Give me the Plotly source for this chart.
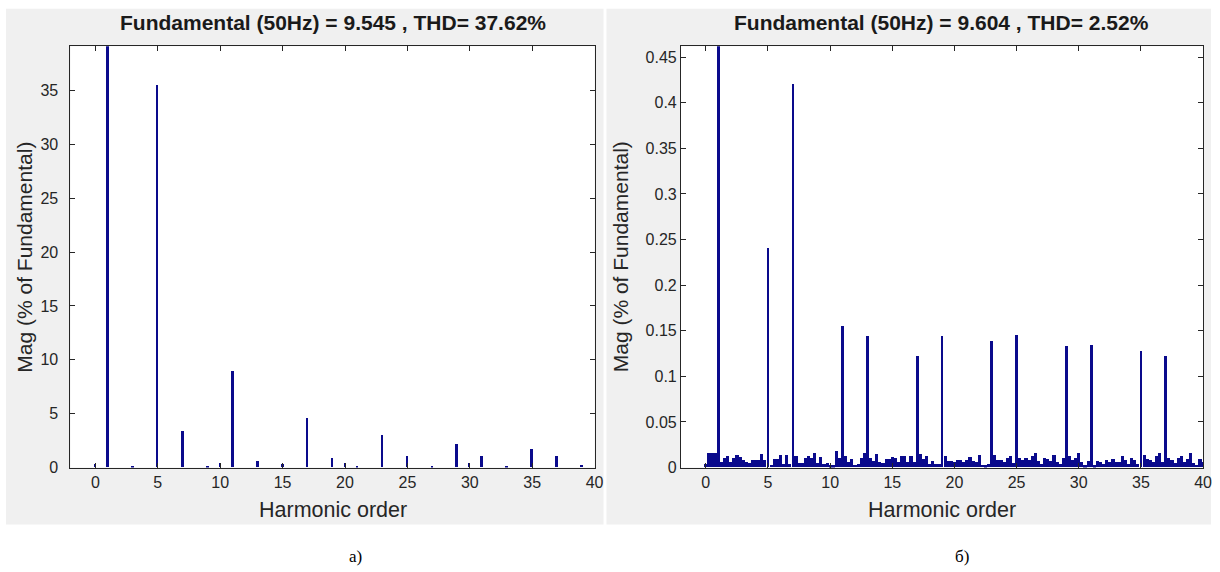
import plotly.graph_objects as go

W, H = 1220, 572

# ---------------- data ----------------
# Panel a) : harmonic spectrum, THD = 37.62 %
harm_a = [0, 1, 3, 5, 7, 9, 10, 11, 13, 15, 17, 19, 20, 21, 23, 25, 27, 29, 30, 31, 33, 35, 37, 39]
mag_a = [0.3, 100, 0.15, 35.5, 3.4, 0.15, 0.4, 8.9, 0.6, 0.3, 4.6, 0.9, 0.4, 0.15, 3.0, 1.0, 0.15, 2.2, 0.4, 1.0, 0.15, 1.7, 1.0, 0.2]
thin_a = [0, 5, 10, 19, 20, 30]          # bars drawn as hairlines in the reference

# Panel б) : harmonic spectrum, THD = 2.52 %
harm_b = [1, 5, 7, 11, 13, 17, 19, 23, 25, 29, 31, 35, 37]
mag_b = [100, 0.241, 0.42, 0.155, 0.144, 0.122, 0.144, 0.139, 0.145, 0.133, 0.134, 0.127, 0.122]
thin_b = [5, 19]

# inter-harmonic content of panel б), one value per 0.25 harmonic bin (0 .. 40)
noise_step = 0.25
noise_b = [
    0.004, 0.016, 0.016, 0.016, 0.0, 0.006, 0.010, 0.012,   # 0 - 1.75
    0.006, 0.010, 0.014, 0.011, 0.008, 0.006, 0.005, 0.008,  # 2 - 3.75
    0.008, 0.008, 0.015, 0.008, 0.0, 0.003, 0.009, 0.009,    # 4 - 5.75
    0.013, 0.004, 0.013, 0.004, 0.0, 0.012, 0.005, 0.005,    # 6 - 7.75
    0.010, 0.012, 0.010, 0.016, 0.005, 0.011, 0.004, 0.005,  # 8 - 9.75
    0.002, 0.002, 0.018, 0.010, 0.0, 0.012, 0.006, 0.009,    # 10 - 11.75
    0.003, 0.004, 0.010, 0.016, 0.0, 0.010, 0.007, 0.015,    # 12 - 13.75
    0.006, 0.005, 0.009, 0.009, 0.011, 0.010, 0.006, 0.012,  # 14 - 15.75
    0.012, 0.006, 0.012, 0.006, 0.0, 0.015, 0.009, 0.012,    # 16 - 17.75
    0.004, 0.007, 0.004, 0.004, 0.0, 0.012, 0.007, 0.007,    # 18 - 19.75
    0.006, 0.008, 0.008, 0.006, 0.008, 0.011, 0.007, 0.006,  # 20 - 21.75
    0.013, 0.003, 0.002, 0.004, 0.0, 0.014, 0.008, 0.008,    # 22 - 23.75
    0.006, 0.010, 0.012, 0.005, 0.0, 0.010, 0.008, 0.010,    # 24 - 25.75
    0.008, 0.012, 0.016, 0.007, 0.004, 0.010, 0.009, 0.007,  # 26 - 27.75
    0.013, 0.006, 0.004, 0.010, 0.0, 0.012, 0.008, 0.010,    # 28 - 29.75
    0.016, 0.006, 0.002, 0.007, 0.0, 0.002, 0.007, 0.006,    # 30 - 31.75
    0.004, 0.008, 0.006, 0.009, 0.006, 0.006, 0.012, 0.008,  # 32 - 33.75
    0.004, 0.010, 0.008, 0.004, 0.0, 0.014, 0.009, 0.008,    # 34 - 35.75
    0.006, 0.012, 0.016, 0.006, 0.0, 0.010, 0.008, 0.005,    # 36 - 37.75
    0.010, 0.012, 0.006, 0.009, 0.016, 0.005, 0.003, 0.009,  # 38 - 39.75
    0.006,                                                   # 40
]
noise_x = [i * noise_step for i in range(len(noise_b))]

xticks = [0, 5, 10, 15, 20, 25, 30, 35, 40]
yticks_a = [0, 5, 10, 15, 20, 25, 30, 35]
yticks_b = [0, 0.05, 0.1, 0.15, 0.2, 0.25, 0.3, 0.35, 0.4, 0.45]
yticklabels_b = ["0", "0.05", "0.1", "0.15", "0.2", "0.25", "0.3", "0.35", "0.4", "0.45"]

title_a = "Fundamental (50Hz) = 9.545 , THD= 37.62%"
title_b = "Fundamental (50Hz) = 9.604 , THD= 2.52%"
xlabel = "Harmonic order"
ylabel = "Mag (% of Fundamental)"
caption_a = "а)"
caption_b = "б)"

# ---------------- style ----------------
BAR = "#0a0a8c"
AX = "#262626"
GRAY = "#f0f0f0"
FONT = "Liberation Sans, Arial, Helvetica, sans-serif"

def px(x):
    return x / W

def py(y):
    return 1 - y / H

# plot areas (pixels)
A_L, A_R, TOP, BOT = 71, 599, 47, 475
B_L, B_R = 686, 1212

fig = go.Figure()

# panel a
wa = [0.08 if h in thin_a else 0.22 for h in harm_a]
fig.add_trace(go.Bar(x=harm_a, y=mag_a, width=wa, marker=dict(color=BAR, line=dict(width=0)),
                     xaxis="x", yaxis="y", showlegend=False))
# panel b
fig.add_trace(go.Bar(x=noise_x, y=noise_b, width=noise_step, marker=dict(color=BAR, line=dict(width=0)),
                     xaxis="x2", yaxis="y2", showlegend=False))
wb = [0.08 if h in thin_b else 0.22 for h in harm_b]
fig.add_trace(go.Bar(x=harm_b, y=mag_b, width=wb, marker=dict(color=BAR, line=dict(width=0)),
                     xaxis="x2", yaxis="y2", showlegend=False))

axis_common = dict(showgrid=False, zeroline=False, showline=True, linecolor=AX, linewidth=1,
                   mirror="ticks", ticks="inside", ticklen=5, tickcolor=AX, tickwidth=1,
                   tickfont=dict(family=FONT, size=16, color=AX), fixedrange=True)

fig.update_layout(
    width=W, height=H,
    margin=dict(l=0, r=0, t=0, b=0),
    paper_bgcolor="white", plot_bgcolor="rgba(0,0,0,0)",
    barmode="overlay", bargap=0,
    xaxis=dict(domain=[px(A_L), px(A_R)], range=[-2, 40], tickvals=xticks, anchor="y", **axis_common),
    yaxis=dict(domain=[py(BOT), py(TOP)], range=[0, 39.1], tickvals=yticks_a, anchor="x",
               ticklabelstandoff=8, **axis_common),
    xaxis2=dict(domain=[px(B_L), px(B_R)], range=[-2, 40], tickvals=xticks, anchor="y2", **axis_common),
    yaxis2=dict(domain=[py(BOT), py(TOP)], range=[0, 0.462], tickvals=yticks_b, ticktext=yticklabels_b,
                anchor="x2", **axis_common),
)

shapes = [
    dict(type="rect", xref="paper", yref="paper", x0=px(6), x1=px(608), y0=py(533), y1=py(9),
         fillcolor=GRAY, line=dict(width=0), layer="below"),
    dict(type="rect", xref="paper", yref="paper", x0=px(611), x1=px(1220), y0=py(533), y1=py(9),
         fillcolor=GRAY, line=dict(width=0), layer="below"),
    dict(type="rect", xref="paper", yref="paper", x0=px(A_L), x1=px(A_R), y0=py(BOT), y1=py(TOP),
         fillcolor="white", line=dict(width=0), layer="below"),
    dict(type="rect", xref="paper", yref="paper", x0=px(B_L), x1=px(B_R), y0=py(BOT), y1=py(TOP),
         fillcolor="white", line=dict(width=0), layer="below"),
]
fig.update_layout(shapes=shapes)

ann = []
for cx, t in [((A_L + A_R) / 2, title_a), ((B_L + B_R) / 2, title_b)]:
    ann.append(dict(x=px(cx), y=py(23), xref="paper", yref="paper", text="<b>" + t + "</b>",
                    showarrow=False, xanchor="center", yanchor="middle",
                    font=dict(family=FONT, size=21, color="#1a1a1a")))
    ann.append(dict(x=px(cx), y=py(518), xref="paper", yref="paper", text=xlabel,
                    showarrow=False, xanchor="center", yanchor="middle",
                    font=dict(family=FONT, size=21.5, color=AX)))
for lx, cy in [(25, (TOP + BOT) / 2), (626, (TOP + BOT) / 2)]:
    ann.append(dict(x=px(lx), y=py(cy), xref="paper", yref="paper", text=ylabel, textangle=-90,
                    showarrow=False, xanchor="center", yanchor="middle",
                    font=dict(family=FONT, size=21, color=AX)))
for cx, t in [(358, caption_a), (969, caption_b)]:
    ann.append(dict(x=px(cx), y=py(565), xref="paper", yref="paper", text=t,
                    showarrow=False, xanchor="center", yanchor="middle",
                    font=dict(family="Liberation Serif, Times New Roman, serif", size=17, color="black")))
fig.update_layout(annotations=ann)

fig.write_html("out.html", config={"displayModeBar": False},
               post_script="document.body.style.margin='0';document.body.style.overflow='hidden';")
